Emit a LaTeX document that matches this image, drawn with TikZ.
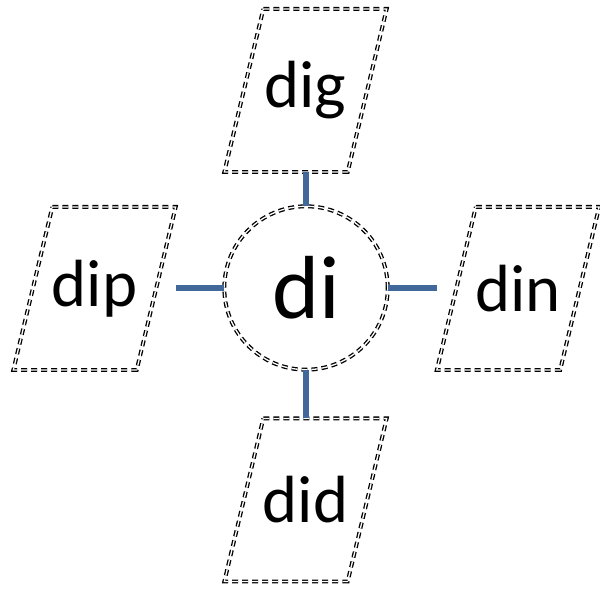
\documentclass[tikz,border=0pt]{standalone}
\usepackage{fontspec}
\setmainfont{Carlito}
\usepackage{tikz}
\usetikzlibrary{calc}
\definecolor{linkblue}{RGB}{65,104,155}

\begin{document}
\begin{tikzpicture}[x=0.02cm,y=-0.02cm,
  ddash/.style={draw=black,double=white,double distance=0.75pt,line width=0.75pt,dash pattern=on 3.4pt off 2.3pt},
  leaf/.style={rectangle,minimum width=92.4pt,minimum height=92.8pt,inner sep=0pt,outer sep=0pt,font=\fontsize{38}{44}\selectfont},
  hub/.style={ddash,circle,minimum size=93pt,inner sep=0pt,outer sep=0pt,font=\fontsize{51}{60}\selectfont},
  link/.style={draw=linkblue,line width=3.4pt}]
\useasboundingbox (0,0) rectangle (600,590);

\node[hub] (di) at (306,288) {di};
\node[leaf] (dig) at (305.5,90.5) {dig};
\node[leaf] (dip) at (94.5,288.5) {dip};
\node[leaf] (din) at (518,288.5) {din};
\node[leaf] (did) at (305.5,500) {did};

% slanted frames
\foreach \n in {dig,dip,din,did}
  \draw[ddash] ($(\n.north west)+(39,0)$) -- (\n.north east) -- ($(\n.south east)-(39,0)$) -- (\n.south west) -- cycle;

\draw[link] (di.north |- dig.south) -- (di.north);
\draw[link] (dip.north east |- di.west) -- (di.west);
\draw[link] (di.east) -- (din.south west |- di.east);
\draw[link] (di.south) -- (di.south |- did.north);
\end{tikzpicture}
\end{document}
